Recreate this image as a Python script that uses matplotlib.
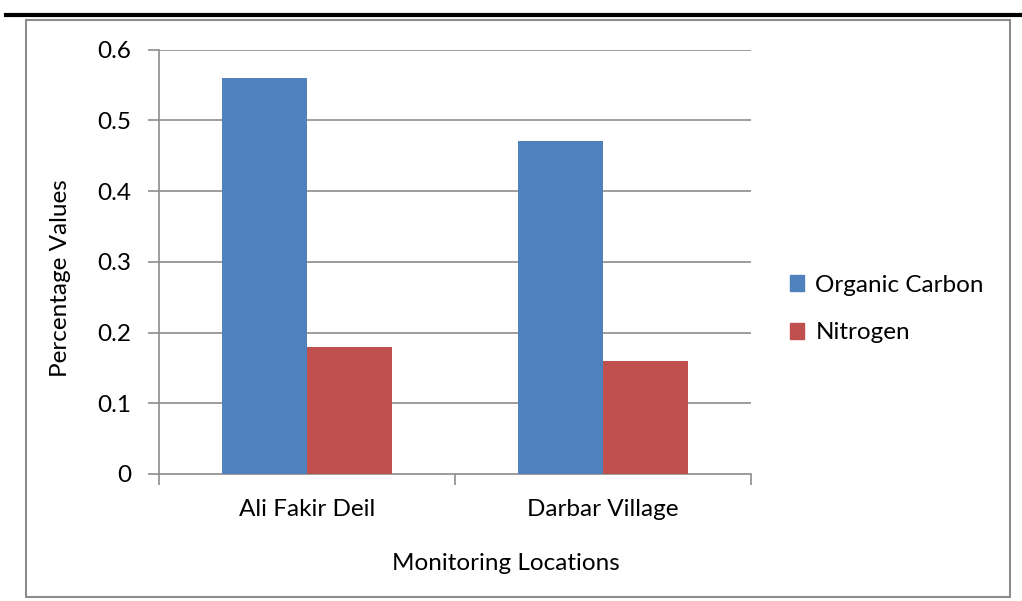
import matplotlib
matplotlib.use("Agg")
import matplotlib.pyplot as plt
import numpy as np
from matplotlib.patches import Rectangle, Patch
from matplotlib.lines import Line2D

locations = ["Ali Fakir Deil", "Darbar Village"]
organic_carbon = [0.56, 0.47]
nitrogen = [0.18, 0.16]
series_names = ["Organic Carbon", "Nitrogen"]
y_ticks = [0, 0.1, 0.2, 0.3, 0.4, 0.5, 0.6]

plt.rcParams["font.family"] = ["Lato", "DejaVu Sans"]
FS = 17.5

W, H = 1022, 601
fig = plt.figure(figsize=(W / 100, H / 100), dpi=100)

# thick rule across the top and the thin chart frame
fig.add_artist(Line2D([6 / W, 1.0], [1 - 15 / H, 1 - 15 / H], color="black", lw=3.0,
                      transform=fig.transFigure))
fig.add_artist(Rectangle((26 / W, 1 - 597 / H), (1010 - 26) / W, (597 - 20) / H,
                         fill=False, edgecolor="#8c8c8c", lw=1.5, transform=fig.transFigure))

ax = fig.add_axes([159 / W, 1 - 474 / H, (751 - 159) / W, (474 - 49.5) / H])

grid_col = "#8c8c8c"
x = np.arange(len(locations))
bw = 1 / 3.5
ax.bar(x - bw / 2, organic_carbon, bw, color="#4F81BD", zorder=3)
ax.bar(x + bw / 2, nitrogen, bw, color="#C0504D", zorder=3)

ax.set_xlim(-0.5, len(locations) - 0.5)
ax.set_ylim(0, 0.6)
ax.set_yticks(y_ticks)
ax.set_yticklabels([f"{v:g}" for v in y_ticks])
ax.set_xticks(x)
ax.set_xticklabels(locations)
ax.set_xticks(np.arange(len(locations) + 1) - 0.5, minor=True)

for v in y_ticks[1:]:
    ax.axhline(v, color=grid_col, lw=1.2, zorder=1)

for s in ["top", "right"]:
    ax.spines[s].set_visible(False)
for s in ["left", "bottom"]:
    ax.spines[s].set_color(grid_col)
    ax.spines[s].set_linewidth(1.2)

ax.tick_params(axis="x", which="major", length=0, labelsize=FS, pad=18)
ax.tick_params(axis="x", which="minor", length=8, color=grid_col, width=1.2)
ax.tick_params(axis="y", length=8, color=grid_col, width=1.2, labelsize=FS, pad=12)

ax.set_ylabel("Percentage Values", fontsize=FS)
ax.yaxis.set_label_coords((61 - 159) / 592, (474 - 278) / 424.5)
ax.set_xlabel("Monitoring Locations", fontsize=FS)
ax.xaxis.set_label_coords((506 - 159) / 592, (474 - 563) / 424.5)
ax.xaxis.label.set_va("center")
ax.yaxis.label.set_va("center")

handles = [Patch(color="#4F81BD"), Patch(color="#C0504D")]
fig.legend(handles, series_names, loc="center left", bbox_to_anchor=(768 / W, 1 - 309 / H),
           frameon=False, fontsize=FS, handlelength=0.6, handleheight=0.6,
           handletextpad=0.45, labelspacing=1.1)

fig.savefig("out.png", dpi=100)
